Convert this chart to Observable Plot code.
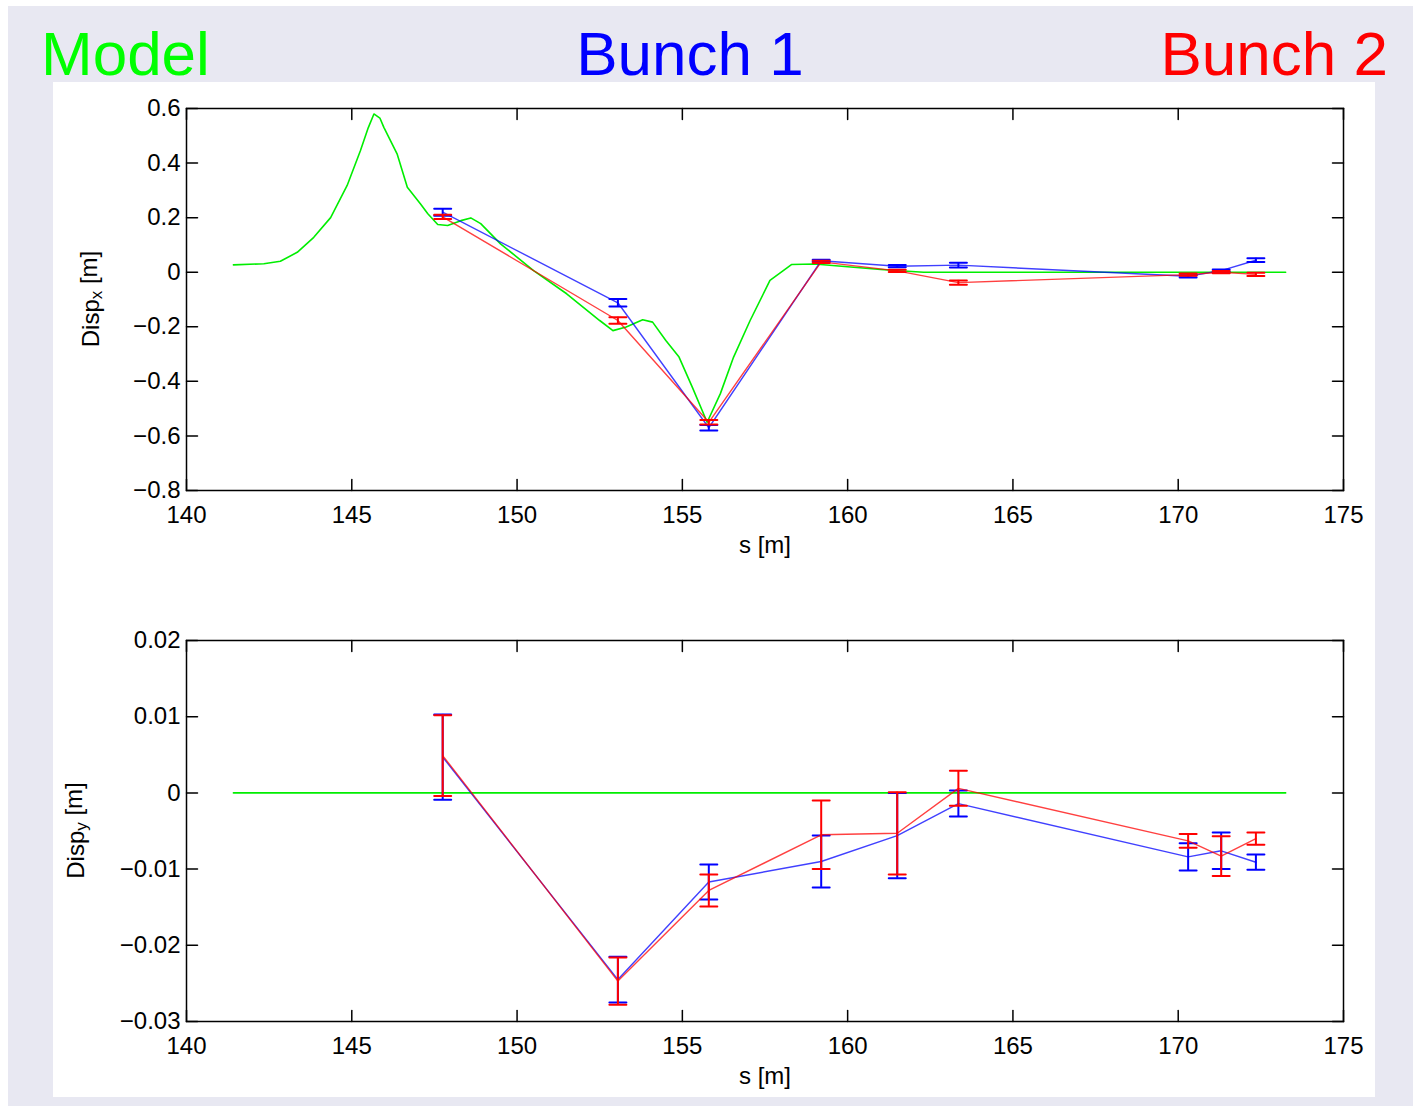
<!DOCTYPE html>
<html>
<head>
<meta charset="utf-8">
<script src="https://cdn.jsdelivr.net/npm/d3@7"></script>
<script src="https://cdn.jsdelivr.net/npm/@observablehq/plot@0.6"></script>
<style>
  body { margin: 0; background: white; }
  #page { position: relative; width: 1418px; height: 1106px; background: white; overflow: hidden;
          font-family: "Liberation Sans", Arial, Helvetica, sans-serif; }
  #bg { position: absolute; left: 8px; top: 6px; width: 1405px; height: 1100px; background: #e8e8f2; }
  #panel { position: absolute; left: 53px; top: 82px; width: 1322px; height: 1015px; background: white; }
  .title { position: absolute; top: 23px; font-size: 62px; line-height: 62px; white-space: nowrap; }
  .chart { position: absolute; left: 0; }
</style>
</head>
<body>
<div id="page">
  <div id="bg"></div>
  <div id="panel"></div>
  <div class="title" style="left:41px;color:#00ff00">Model</div>
  <div class="title" style="left:690px;transform:translateX(-50%);color:#0000ff">Bunch 1</div>
  <div class="title" style="right:30px;color:#ff0000">Bunch 2</div>
  <div id="top" class="chart" style="top:0px"></div>
  <div id="bot" class="chart" style="top:560px"></div>
</div>
<script>
// ---------- data ----------
const bpmS = [147.75, 153.05, 155.8, 159.2, 161.5, 163.35, 170.3, 171.3, 172.35];

const bunch1Dx    = [0.220, -0.112, -0.570, 0.042, 0.022, 0.026, -0.015, 0.006, 0.044];
const bunch1DxErr = [0.013, 0.014, 0.010, 0.004, 0.004, 0.009, 0.004, 0.004, 0.007];
const bunch2Dx    = [0.203, -0.177, -0.550, 0.038, 0.005, -0.038, -0.009, 0.000, -0.008];
const bunch2DxErr = [0.008, 0.012, 0.008, 0.004, 0.004, 0.008, 0.004, 0.004, 0.006];

const bunch1Dy    = [0.0047, -0.0245, -0.0117, -0.0090, -0.0056, -0.0014, -0.0084, -0.0076, -0.0091];
const bunch1DyErr = [0.0056, 0.0030, 0.0023, 0.0034, 0.0056, 0.0017, 0.0018, 0.0024, 0.0010];
const bunch2Dy    = [0.0049, -0.0247, -0.0128, -0.0055, -0.0053, 0.0006, -0.0063, -0.0083, -0.0060];
const bunch2DyErr = [0.0053, 0.0031, 0.0021, 0.0045, 0.0054, 0.0023, 0.0009, 0.0026, 0.0008];

const modelS  = [141.42, 142.34, 142.84, 143.35, 143.85, 144.36, 144.86, 145.26, 145.5, 145.67, 145.85, 145.97, 146.37, 146.68,
                 147.08, 147.3, 147.6, 147.9, 148.3, 148.6, 148.9, 149.5, 150.5, 151.5, 152.5, 152.9, 153.3,
                 153.8, 154.1, 154.5, 154.9, 155.3, 155.75, 156.15, 156.55, 157.05, 157.65, 158.3, 159.0,
                 160.0, 161.0, 162.3, 165.0, 170.0, 173.25];
const modelDx = [0.027, 0.031, 0.040, 0.073, 0.128, 0.200, 0.318, 0.445, 0.530, 0.580, 0.565, 0.531, 0.434, 0.311,
                 0.250, 0.214, 0.175, 0.171, 0.189, 0.199, 0.178, 0.104, 0.006, -0.079, -0.177, -0.214, -0.201,
                 -0.174, -0.183, -0.250, -0.311, -0.421, -0.550, -0.445, -0.311, -0.177, -0.030, 0.028, 0.030,
                 0.020, 0.010, 0.000, 0.000, 0.000, 0.000];
const modelYS = [141.42, 173.25];
const modelDy = [0, 0];

const xTicks = [140, 145, 150, 155, 160, 165, 170, 175];
const yTicksTop = [-0.8, -0.6, -0.4, -0.2, 0, 0.2, 0.4, 0.6];
const yTicksBot = [-0.03, -0.02, -0.01, 0, 0.01, 0.02];

// ---------- helpers ----------
const FONT = '"Liberation Sans", Arial, Helvetica, sans-serif';
const fmt = d3.format("~g");
const lineShape = { draw(context, l) { context.moveTo(0, 0); context.lineTo(0, -l); } };
const rows = (vals, errs) => bpmS.map((s, i) => ({ s, v: vals[i], lo: vals[i] - errs[i], hi: vals[i] + errs[i] }));
const curve = (xs, ys) => xs.map((s, i) => ({ s, v: ys[i] }));

function series(data, color) {
  return [
    Plot.line(data, { x: "s", y: "v", stroke: color, strokeWidth: 1.4, strokeOpacity: 0.75 }),
    Plot.ruleX(data, { x: "s", y1: "lo", y2: "hi", stroke: color, strokeWidth: 2 }),
    Plot.vector(data, { x: "s", y: "lo", rotate: 90, length: 17, anchor: "middle", shape: lineShape, stroke: color, strokeWidth: 2 }),
    Plot.vector(data, { x: "s", y: "hi", rotate: 90, length: 17, anchor: "middle", shape: lineShape, stroke: color, strokeWidth: 2 })
  ];
}

function frameTicks(yTicks) {
  const t = { length: 11, shape: lineShape, stroke: "black", strokeWidth: 1.5, anchor: "start" };
  return [
    Plot.vector(xTicks, { x: d => d, frameAnchor: "bottom", rotate: 0, ...t }),
    Plot.vector(xTicks, { x: d => d, frameAnchor: "top", rotate: 180, ...t }),
    Plot.vector(yTicks, { y: d => d, frameAnchor: "left", rotate: 90, ...t }),
    Plot.vector(yTicks, { y: d => d, frameAnchor: "right", rotate: -90, ...t })
  ];
}

function makePlot({ height, marginTop, marginBottom, yDomain, yTicks, model, b1, b2 }) {
  return Plot.plot({
    width: 1418, height, marginLeft: 186, marginRight: 75, marginTop, marginBottom,
    style: { fontFamily: FONT, fontSize: "24px", background: "transparent", color: "black", overflow: "visible" },
    x: { domain: [140, 175] },
    y: { domain: yDomain },
    marks: [
      Plot.line(model, { x: "s", y: "v", stroke: "#00ee00", strokeWidth: 1.6 }),
      ...series(b1, "#0000ff"),
      ...series(b2, "#ff0000"),
      Plot.frame({ stroke: "black", strokeWidth: 1.5 }),
      ...frameTicks(yTicks),
      Plot.axisX({ anchor: "bottom", ticks: xTicks, tickSize: 0, tickPadding: 15, tickFormat: fmt, label: null, fontSize: 24 }),
      Plot.axisY({ anchor: "left", ticks: yTicks, tickSize: 0, tickPadding: 6, tickFormat: fmt, label: null, fontSize: 24 }),
      Plot.text(["s [m]"], { frameAnchor: "bottom", dy: 62, text: d => d, fontSize: 24 })
    ]
  });
}

function addYLabel(svg, x, y, sub) {
  const t = d3.select(svg).append("text")
    .attr("transform", `translate(${x},${y}) rotate(-90)`)
    .attr("text-anchor", "middle")
    .attr("dominant-baseline", "central")
    .attr("font-family", FONT)
    .attr("font-size", 24)
    .attr("fill", "black");
  t.append("tspan").text("Disp");
  t.append("tspan").attr("dy", "0.35em").attr("font-size", 17).text(sub);
  t.append("tspan").attr("dy", "-0.35em").text(" [m]");
}

const topSvg = makePlot({
  height: 560, marginTop: 108, marginBottom: 70,
  yDomain: [-0.8, 0.6], yTicks: yTicksTop,
  model: curve(modelS, modelDx),
  b1: rows(bunch1Dx, bunch1DxErr), b2: rows(bunch2Dx, bunch2DxErr)
});
addYLabel(topSvg, 90, 299, "x");
document.getElementById("top").append(topSvg);

const botSvg = makePlot({
  height: 546, marginTop: 80, marginBottom: 85,
  yDomain: [-0.03, 0.02], yTicks: yTicksBot,
  model: curve(modelYS, modelDy),
  b1: rows(bunch1Dy, bunch1DyErr), b2: rows(bunch2Dy, bunch2DyErr)
});
addYLabel(botSvg, 75, 270.5, "y");
document.getElementById("bot").append(botSvg);
</script>
</body>
</html>
